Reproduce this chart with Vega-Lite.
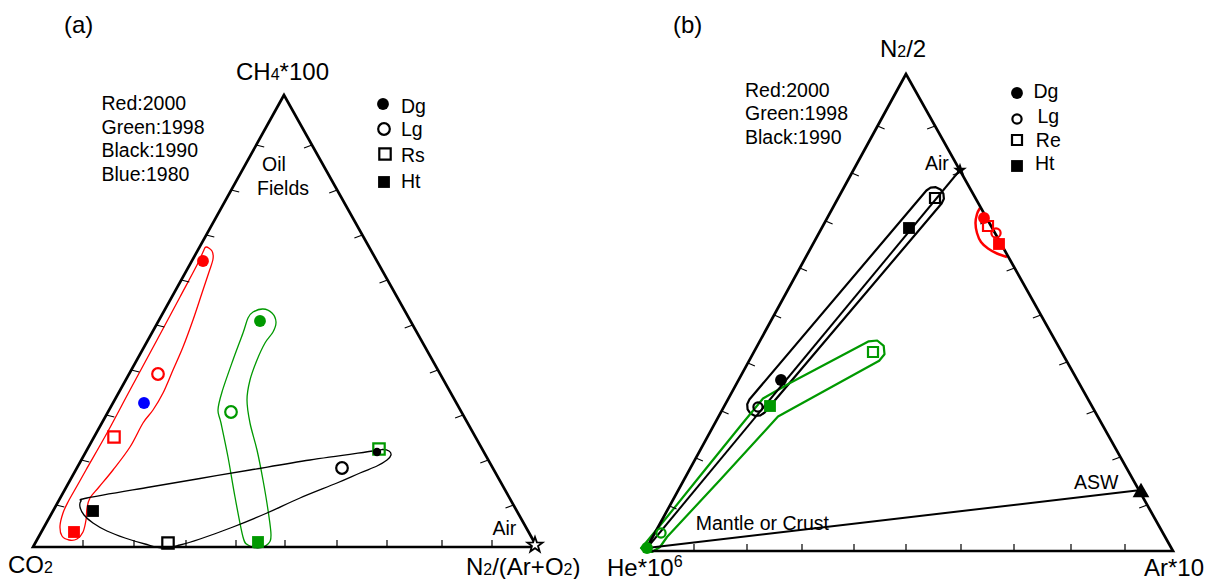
{
"$schema": "https://vega.github.io/schema/vega-lite/v6.json",
"width": 1206, "height": 579, "padding": 0,
"autosize": {"type": "none"},
"background": "white",
"config": {"view": {"stroke": null}},
"datasets": {
"edges": [
{"panel":"a","i":0,"x":33,"y":547},{"panel":"a","i":1,"x":284,"y":95},{"panel":"a","i":2,"x":537,"y":547},{"panel":"a","i":3,"x":33,"y":547},{"panel":"a","i":4,"x":284,"y":95},
{"panel":"b","i":0,"x":645,"y":551},{"panel":"b","i":1,"x":906,"y":74},{"panel":"b","i":2,"x":1173,"y":551},{"panel":"b","i":3,"x":645,"y":551},{"panel":"b","i":4,"x":906,"y":74}
],
"ticks": [
{"x":83,"y":547,"x2":83,"y2":540},{"x":134,"y":547,"x2":134,"y2":540},{"x":186,"y":547,"x2":186,"y2":540},{"x":236,"y":547,"x2":236,"y2":540},{"x":285,"y":547,"x2":285,"y2":540},{"x":337,"y":547,"x2":337,"y2":540},{"x":387,"y":547,"x2":387,"y2":540},{"x":442,"y":547,"x2":442,"y2":540},{"x":492,"y":547,"x2":492,"y2":540},
{"x":256.2,"y":145,"x2":264.2,"y2":147},{"x":231.2,"y":190,"x2":239.2,"y2":192},{"x":206.3,"y":235,"x2":214.3,"y2":237},{"x":181.3,"y":280,"x2":189.3,"y2":282},{"x":156.3,"y":325,"x2":164.3,"y2":327},{"x":131.3,"y":370,"x2":139.3,"y2":372},{"x":106.3,"y":415,"x2":114.3,"y2":417},{"x":81.3,"y":460,"x2":89.3,"y2":462},{"x":56.3,"y":505,"x2":64.3,"y2":507},
{"x":312.0,"y":145,"x2":304.0,"y2":148},{"x":337.2,"y":190,"x2":329.2,"y2":193},{"x":362.4,"y":235,"x2":354.4,"y2":238},{"x":387.5,"y":280,"x2":379.5,"y2":283},{"x":412.7,"y":325,"x2":404.7,"y2":328},{"x":437.9,"y":370,"x2":429.9,"y2":373},{"x":463.1,"y":415,"x2":455.1,"y2":418},{"x":488.3,"y":460,"x2":480.3,"y2":463},{"x":513.5,"y":505,"x2":505.5,"y2":508},
{"x":694,"y":551,"x2":694,"y2":544},{"x":747,"y":551,"x2":747,"y2":544},{"x":802,"y":551,"x2":802,"y2":544},{"x":854,"y":551,"x2":854,"y2":544},{"x":906,"y":551,"x2":906,"y2":544},{"x":961,"y":551,"x2":961,"y2":544},{"x":1014,"y":551,"x2":1014,"y2":544},{"x":1071,"y":551,"x2":1071,"y2":544},{"x":1125,"y":551,"x2":1125,"y2":544},
{"x":669.6,"y":506,"x2":676.6,"y2":509},{"x":695.9,"y":458,"x2":702.9,"y2":461},{"x":721.6,"y":411,"x2":728.6,"y2":414},{"x":747.9,"y":363,"x2":754.9,"y2":366},{"x":774.1,"y":315,"x2":781.1,"y2":318},{"x":799.9,"y":268,"x2":806.9,"y2":271},{"x":825.6,"y":221,"x2":832.6,"y2":224},{"x":851.8,"y":173,"x2":858.8,"y2":176},{"x":877.6,"y":126,"x2":884.6,"y2":129},
{"x":935.1,"y":126,"x2":927.1,"y2":129},{"x":960.8,"y":172,"x2":952.8,"y2":175},{"x":988.3,"y":221,"x2":980.3,"y2":224},{"x":1014.6,"y":268,"x2":1006.6,"y2":271},{"x":1040.9,"y":315,"x2":1032.9,"y2":318},{"x":1067.2,"y":362,"x2":1059.2,"y2":365},{"x":1094.6,"y":411,"x2":1086.6,"y2":414},{"x":1120.4,"y":457,"x2":1112.4,"y2":460},{"x":1147.2,"y":505,"x2":1139.2,"y2":508}
],
"env_a": [
{"g":"ra","year":"2000","i":0,"x":206,"y":247},{"g":"ra","year":"2000","i":1,"x":212,"y":251},{"g":"ra","year":"2000","i":2,"x":213,"y":259},{"g":"ra","year":"2000","i":3,"x":209,"y":272},{"g":"ra","year":"2000","i":4,"x":202,"y":293},{"g":"ra","year":"2000","i":5,"x":193,"y":320},{"g":"ra","year":"2000","i":6,"x":183,"y":347},{"g":"ra","year":"2000","i":7,"x":173,"y":370},{"g":"ra","year":"2000","i":8,"x":163,"y":393},{"g":"ra","year":"2000","i":9,"x":153,"y":410},{"g":"ra","year":"2000","i":10,"x":143,"y":423},{"g":"ra","year":"2000","i":11,"x":130,"y":447},{"g":"ra","year":"2000","i":12,"x":113,"y":470},{"g":"ra","year":"2000","i":13,"x":99,"y":487},{"g":"ra","year":"2000","i":14,"x":90,"y":498},{"g":"ra","year":"2000","i":15,"x":87,"y":508},{"g":"ra","year":"2000","i":16,"x":86,"y":520},{"g":"ra","year":"2000","i":17,"x":83,"y":532},{"g":"ra","year":"2000","i":18,"x":77,"y":539},{"g":"ra","year":"2000","i":19,"x":69,"y":540},{"g":"ra","year":"2000","i":20,"x":62,"y":536},{"g":"ra","year":"2000","i":21,"x":60,"y":526},{"g":"ra","year":"2000","i":22,"x":63,"y":513},{"g":"ra","year":"2000","i":23,"x":68,"y":502},{"g":"ra","year":"2000","i":24,"x":77,"y":486},{"g":"ra","year":"2000","i":25,"x":86,"y":470},{"g":"ra","year":"2000","i":26,"x":107,"y":433},{"g":"ra","year":"2000","i":27,"x":130,"y":390},{"g":"ra","year":"2000","i":28,"x":157,"y":340},{"g":"ra","year":"2000","i":29,"x":180,"y":297},{"g":"ra","year":"2000","i":30,"x":197,"y":265},{"g":"ra","year":"2000","i":31,"x":203,"y":252},
{"g":"ga","year":"1998","i":0,"x":253,"y":312},{"g":"ga","year":"1998","i":1,"x":263,"y":309},{"g":"ga","year":"1998","i":2,"x":272,"y":313},{"g":"ga","year":"1998","i":3,"x":276,"y":322},{"g":"ga","year":"1998","i":4,"x":273,"y":332},{"g":"ga","year":"1998","i":5,"x":265,"y":343},{"g":"ga","year":"1998","i":6,"x":257,"y":360},{"g":"ga","year":"1998","i":7,"x":250,"y":380},{"g":"ga","year":"1998","i":8,"x":247,"y":400},{"g":"ga","year":"1998","i":9,"x":250,"y":423},{"g":"ga","year":"1998","i":10,"x":257,"y":450},{"g":"ga","year":"1998","i":11,"x":263,"y":480},{"g":"ga","year":"1998","i":12,"x":268,"y":510},{"g":"ga","year":"1998","i":13,"x":271,"y":535},{"g":"ga","year":"1998","i":14,"x":268,"y":544},{"g":"ga","year":"1998","i":15,"x":258,"y":548},{"g":"ga","year":"1998","i":16,"x":248,"y":545},{"g":"ga","year":"1998","i":17,"x":243,"y":537},{"g":"ga","year":"1998","i":18,"x":235,"y":497},{"g":"ga","year":"1998","i":19,"x":228,"y":457},{"g":"ga","year":"1998","i":20,"x":221,"y":423},{"g":"ga","year":"1998","i":21,"x":218,"y":410},{"g":"ga","year":"1998","i":22,"x":222,"y":392},{"g":"ga","year":"1998","i":23,"x":233,"y":360},{"g":"ga","year":"1998","i":24,"x":243,"y":333},{"g":"ga","year":"1998","i":25,"x":248,"y":318},
{"g":"ka","year":"1990","i":0,"x":87,"y":498},{"g":"ka","year":"1990","i":1,"x":150,"y":487},{"g":"ka","year":"1990","i":2,"x":200,"y":478.5},{"g":"ka","year":"1990","i":3,"x":250,"y":470},{"g":"ka","year":"1990","i":4,"x":310,"y":460},{"g":"ka","year":"1990","i":5,"x":373,"y":451},{"g":"ka","year":"1990","i":6,"x":383,"y":449.5},{"g":"ka","year":"1990","i":7,"x":389,"y":451},{"g":"ka","year":"1990","i":8,"x":391,"y":455},{"g":"ka","year":"1990","i":9,"x":387,"y":460},{"g":"ka","year":"1990","i":10,"x":377,"y":466},{"g":"ka","year":"1990","i":11,"x":360,"y":473},{"g":"ka","year":"1990","i":12,"x":337,"y":483},{"g":"ka","year":"1990","i":13,"x":300,"y":498},{"g":"ka","year":"1990","i":14,"x":267,"y":513},{"g":"ka","year":"1990","i":15,"x":233,"y":527},{"g":"ka","year":"1990","i":16,"x":200,"y":539},{"g":"ka","year":"1990","i":17,"x":180,"y":545},{"g":"ka","year":"1990","i":18,"x":163,"y":548},{"g":"ka","year":"1990","i":19,"x":145,"y":544},{"g":"ka","year":"1990","i":20,"x":125,"y":538},{"g":"ka","year":"1990","i":21,"x":107,"y":531},{"g":"ka","year":"1990","i":22,"x":93,"y":523},{"g":"ka","year":"1990","i":23,"x":84,"y":515},{"g":"ka","year":"1990","i":24,"x":80,"y":507},{"g":"ka","year":"1990","i":25,"x":81,"y":501}
],
"env_b": [
{"g":"kb","year":"1990","i":0,"x":941.6,"y":203.5},{"g":"kb","year":"1990","i":1,"x":943.9,"y":198.8},{"g":"kb","year":"1990","i":2,"x":943.4,"y":193.6},{"g":"kb","year":"1990","i":3,"x":940.5,"y":189.4},{"g":"kb","year":"1990","i":4,"x":935.8,"y":187.2},{"g":"kb","year":"1990","i":5,"x":930.6,"y":187.6},{"g":"kb","year":"1990","i":6,"x":926.4,"y":190.5},{"g":"kb","year":"1990","i":7,"x":749.4,"y":399.5},{"g":"kb","year":"1990","i":8,"x":747.2,"y":404.2},{"g":"kb","year":"1990","i":9,"x":747.6,"y":409.4},{"g":"kb","year":"1990","i":10,"x":750.5,"y":413.6},{"g":"kb","year":"1990","i":11,"x":755.2,"y":415.9},{"g":"kb","year":"1990","i":12,"x":760.4,"y":415.4},{"g":"kb","year":"1990","i":13,"x":764.6,"y":412.5},
{"g":"gb","year":"1998","i":0,"x":644,"y":545},{"g":"gb","year":"1998","i":1,"x":667,"y":517},{"g":"gb","year":"1998","i":2,"x":700,"y":476},{"g":"gb","year":"1998","i":3,"x":740,"y":426.5},{"g":"gb","year":"1998","i":4,"x":763,"y":398.5},{"g":"gb","year":"1998","i":5,"x":790,"y":383},{"g":"gb","year":"1998","i":6,"x":868.8,"y":341.3},{"g":"gb","year":"1998","i":7,"x":877.2,"y":340.5},{"g":"gb","year":"1998","i":8,"x":883.7,"y":345.8},{"g":"gb","year":"1998","i":9,"x":884.5,"y":354.2},{"g":"gb","year":"1998","i":10,"x":879.2,"y":360.7},{"g":"gb","year":"1998","i":11,"x":778,"y":416.5},{"g":"gb","year":"1998","i":12,"x":720,"y":480},{"g":"gb","year":"1998","i":13,"x":667,"y":537},{"g":"gb","year":"1998","i":14,"x":660,"y":547},{"g":"gb","year":"1998","i":15,"x":652,"y":552},{"g":"gb","year":"1998","i":16,"x":644,"y":551},{"g":"gb","year":"1998","i":17,"x":641,"y":548}
],
"arc_b": [
{"g":"rb","year":"2000","i":0,"x":980,"y":208},{"g":"rb","year":"2000","i":1,"x":977,"y":214},{"g":"rb","year":"2000","i":2,"x":975.5,"y":223},{"g":"rb","year":"2000","i":3,"x":977,"y":233},{"g":"rb","year":"2000","i":4,"x":981,"y":242},{"g":"rb","year":"2000","i":5,"x":988,"y":248.5},{"g":"rb","year":"2000","i":6,"x":997,"y":253.5},{"g":"rb","year":"2000","i":7,"x":1007,"y":257}
],
"lines_b": [
{"name":"air","x":647,"y":548,"x2":960,"y2":170},
{"name":"mantle","x":647,"y":548,"x2":1141,"y2":490}
],
"pts": [
{"panel":"a","sample":"Dg","year":"2000","x":203,"y":261},{"panel":"a","sample":"Dg","year":"1980","x":144,"y":403},{"panel":"a","sample":"Dg","year":"1998","x":260,"y":321},{"panel":"a","sample":"Dg","year":"1990","x":377,"y":452},{"panel":"a","sample":"Dg","year":"legend","x":383,"y":104},
{"panel":"a","sample":"Lg","year":"2000","x":158,"y":374},{"panel":"a","sample":"Lg","year":"1998","x":231,"y":412},{"panel":"a","sample":"Lg","year":"1990","x":342,"y":468},{"panel":"a","sample":"Lg","year":"legend","x":384,"y":129},
{"panel":"a","sample":"Rs","year":"2000","x":114,"y":437},{"panel":"a","sample":"Rs","year":"1990","x":168,"y":543},{"panel":"a","sample":"Rs","year":"1998","x":379,"y":449},{"panel":"a","sample":"Rs","year":"legend","x":385,"y":154},
{"panel":"a","sample":"Ht","year":"2000","x":74,"y":532},{"panel":"a","sample":"Ht","year":"1990","x":93,"y":511},{"panel":"a","sample":"Ht","year":"1998","x":258,"y":542},{"panel":"a","sample":"Ht","year":"legend","x":384,"y":182},
{"panel":"b","sample":"Dg","year":"2000","x":984,"y":218},{"panel":"b","sample":"Dg","year":"1990","x":781,"y":380},{"panel":"b","sample":"Dg","year":"1998","x":647,"y":548},{"panel":"b","sample":"Dg","year":"legend","x":1017,"y":93},
{"panel":"b","sample":"Lg","year":"2000","x":996,"y":233},{"panel":"b","sample":"Lg","year":"1990","x":758,"y":407},{"panel":"b","sample":"Lg","year":"1998","x":661,"y":533},{"panel":"b","sample":"Lg","year":"legend","x":1017,"y":119},
{"panel":"b","sample":"Re","year":"2000","x":988,"y":226},{"panel":"b","sample":"Re","year":"1990","x":935,"y":198},{"panel":"b","sample":"Re","year":"1998","x":873,"y":352},{"panel":"b","sample":"Re","year":"legend","x":1017,"y":140},
{"panel":"b","sample":"Ht","year":"2000","x":999,"y":244},{"panel":"b","sample":"Ht","year":"1990","x":909,"y":228},{"panel":"b","sample":"Ht","year":"1998","x":770,"y":406},{"panel":"b","sample":"Ht","year":"legend","x":1017,"y":166}
],
"refs": [
{"name":"Air a","x":535,"y":545},
{"name":"Air b","x":960,"y":170},
{"name":"ASW","x":1141,"y":490}
],
"t24": [
{"x":64,"y":33,"text":"(a)"},{"x":673,"y":33,"text":"(b)"},
{"x":236,"y":80,"text":"CH"},{"x":279.6,"y":80,"text":"*100"},
{"x":8,"y":573,"text":"CO"},
{"x":466,"y":574.5,"text":"N"},{"x":492.2,"y":574.5,"text":"/(Ar+O"},{"x":572.5,"y":574.5,"text":")"},
{"x":880,"y":57,"text":"N"},{"x":906.2,"y":57,"text":"/2"},
{"x":607,"y":575.5,"text":"He*10"},{"x":1144,"y":575.5,"text":"Ar*10"}
],
"t16": [
{"x":270.7,"y":80,"text":"4"},{"x":44,"y":573,"text":"2"},{"x":483.3,"y":574.5,"text":"2"},{"x":563.6,"y":574.5,"text":"2"},{"x":897.3,"y":57,"text":"2"},{"x":673.7,"y":566.5,"text":"6"}
],
"t19": [
{"x":101.5,"y":110,"text":"Red:2000"},{"x":101.5,"y":133.5,"text":"Green:1998"},{"x":101.5,"y":157,"text":"Black:1990"},{"x":101.5,"y":180.5,"text":"Blue:1980"},
{"x":262,"y":171,"text":"Oil"},{"x":257,"y":195,"text":"Fields"},
{"x":401,"y":112.5,"text":"Dg"},{"x":401,"y":136,"text":"Lg"},{"x":401,"y":161.5,"text":"Rs"},{"x":401,"y":187.5,"text":"Ht"},
{"x":492.5,"y":535,"text":"Air"},
{"x":745,"y":96.5,"text":"Red:2000"},{"x":745,"y":120,"text":"Green:1998"},{"x":745,"y":143.5,"text":"Black:1990"},
{"x":1033.5,"y":98,"text":"Dg"},{"x":1037.5,"y":123,"text":"Lg"},{"x":1035.8,"y":147.3,"text":"Re"},{"x":1035,"y":170,"text":"Ht"},
{"x":925,"y":170,"text":"Air"},{"x":1074,"y":489,"text":"ASW"},{"x":695.7,"y":530,"text":"Mantle or Crust"}
]
},
"encoding": {
"x": {"field":"x","type":"quantitative","scale":{"domain":[0,1206],"nice":false,"zero":false},"axis":null},
"y": {"field":"y","type":"quantitative","scale":{"domain":[0,579],"nice":false,"zero":false,"reverse":true},"axis":null}
},
"layer": [
{"data":{"name":"env_a"},"mark":{"type":"line","interpolate":"cardinal-closed","strokeWidth":1.3},
 "encoding":{"detail":{"field":"g","type":"nominal"},"order":{"field":"i","type":"quantitative"},
 "color":{"field":"year","type":"nominal","scale":{"domain":["2000","1998","1990","1980","legend"],"range":["#ff0000","#009900","#000000","#0000ff","#000000"]},"legend":null}}},
{"data":{"name":"env_b"},"mark":{"type":"line","interpolate":"linear-closed","strokeWidth":2.2,"strokeJoin":"round"},
 "encoding":{"detail":{"field":"g","type":"nominal"},"order":{"field":"i","type":"quantitative"},
 "color":{"field":"year","type":"nominal","scale":{"domain":["2000","1998","1990","1980","legend"],"range":["#ff0000","#009900","#000000","#0000ff","#000000"]},"legend":null}}},
{"data":{"name":"arc_b"},"mark":{"type":"line","interpolate":"cardinal","strokeWidth":2.5},
 "encoding":{"order":{"field":"i","type":"quantitative"},
 "color":{"field":"year","type":"nominal","scale":{"domain":["2000","1998","1990","1980","legend"],"range":["#ff0000","#009900","#000000","#0000ff","#000000"]},"legend":null}}},
{"data":{"name":"lines_b"},"mark":{"type":"rule","color":"black","strokeWidth":2},
 "encoding":{"x2":{"field":"x2"},"y2":{"field":"y2"}}},
{"data":{"name":"edges"},"mark":{"type":"line","color":"black","strokeWidth":2.7,"strokeJoin":"miter","strokeMiterLimit":20},
 "encoding":{"detail":{"field":"panel","type":"nominal"},"order":{"field":"i","type":"quantitative"}}},
{"data":{"name":"ticks"},"mark":{"type":"rule","color":"black","strokeWidth":1.2},
 "encoding":{"x2":{"field":"x2"},"y2":{"field":"y2"}}},
{"data":{"name":"pts"},"transform":[{"filter":"datum.sample=='Lg' && datum.panel=='a'"}],
 "mark":{"type":"point","shape":"circle","filled":false,"strokeWidth":2.2,"size":135,"opacity":1},
 "encoding":{"color":{"field":"year","type":"nominal","scale":{"domain":["2000","1998","1990","1980","legend"],"range":["#ff0000","#009900","#000000","#0000ff","#000000"]},"legend":null}}},
{"data":{"name":"pts"},"transform":[{"filter":"datum.sample=='Lg' && datum.panel=='b'"}],
 "mark":{"type":"point","shape":"circle","filled":false,"strokeWidth":2.2,"size":85,"opacity":1},
 "encoding":{"color":{"field":"year","type":"nominal","scale":{"domain":["2000","1998","1990","1980","legend"],"range":["#ff0000","#009900","#000000","#0000ff","#000000"]},"legend":null}}},
{"data":{"name":"pts"},"transform":[{"filter":"(datum.sample=='Rs' || datum.sample=='Re') && datum.panel=='a'"}],
 "mark":{"type":"point","shape":"square","filled":false,"strokeWidth":2.2,"size":130,"opacity":1},
 "encoding":{"color":{"field":"year","type":"nominal","scale":{"domain":["2000","1998","1990","1980","legend"],"range":["#ff0000","#009900","#000000","#0000ff","#000000"]},"legend":null}}},
{"data":{"name":"pts"},"transform":[{"filter":"(datum.sample=='Rs' || datum.sample=='Re') && datum.panel=='b'"}],
 "mark":{"type":"point","shape":"square","filled":false,"strokeWidth":2.2,"size":100,"opacity":1},
 "encoding":{"color":{"field":"year","type":"nominal","scale":{"domain":["2000","1998","1990","1980","legend"],"range":["#ff0000","#009900","#000000","#0000ff","#000000"]},"legend":null}}},
{"data":{"name":"pts"},"transform":[{"filter":"datum.sample=='Ht'"}],
 "mark":{"type":"point","shape":"square","filled":true,"size":140,"opacity":1},
 "encoding":{"color":{"field":"year","type":"nominal","scale":{"domain":["2000","1998","1990","1980","legend"],"range":["#ff0000","#009900","#000000","#0000ff","#000000"]},"legend":null}}},
{"data":{"name":"pts"},"transform":[{"filter":"datum.sample=='Dg' && !(datum.panel=='a' && datum.year=='1990')"}],
 "mark":{"type":"point","shape":"circle","filled":true,"size":140,"opacity":1},
 "encoding":{"color":{"field":"year","type":"nominal","scale":{"domain":["2000","1998","1990","1980","legend"],"range":["#ff0000","#009900","#000000","#0000ff","#000000"]},"legend":null}}},
{"data":{"name":"pts"},"transform":[{"filter":"datum.sample=='Dg' && datum.panel=='a' && datum.year=='1990'"}],
 "mark":{"type":"point","shape":"circle","filled":true,"size":70,"opacity":1},
 "encoding":{"color":{"field":"year","type":"nominal","scale":{"domain":["2000","1998","1990","1980","legend"],"range":["#ff0000","#009900","#000000","#0000ff","#000000"]},"legend":null}}},
{"data":{"name":"refs"},"transform":[{"filter":"datum.name=='Air a'"}],
 "mark":{"type":"point","shape":"M0,-1L0.235,-0.324L0.951,-0.309L0.38,0.124L0.588,0.809L0,0.4L-0.588,0.809L-0.38,0.124L-0.951,-0.309L-0.235,-0.324Z","filled":true,"fill":"white","stroke":"black","strokeWidth":1.8,"size":256,"opacity":1}},
{"data":{"name":"refs"},"transform":[{"filter":"datum.name=='Air b'"}],
 "mark":{"type":"point","shape":"M0,-1L0.235,-0.324L0.951,-0.309L0.38,0.124L0.588,0.809L0,0.4L-0.588,0.809L-0.38,0.124L-0.951,-0.309L-0.235,-0.324Z","filled":true,"color":"black","size":210,"opacity":1}},
{"data":{"name":"refs"},"transform":[{"filter":"datum.name=='ASW'"}],
 "mark":{"type":"point","shape":"triangle-up","filled":true,"color":"black","size":280,"opacity":1}},
{"data":{"name":"t24"},"mark":{"type":"text","align":"left","baseline":"alphabetic","font":"Liberation Sans","fontSize":24,"color":"black"},
 "encoding":{"text":{"field":"text"}}},
{"data":{"name":"t16"},"mark":{"type":"text","align":"left","baseline":"alphabetic","font":"Liberation Sans","fontSize":16,"color":"black"},
 "encoding":{"text":{"field":"text"}}},
{"data":{"name":"t19"},"mark":{"type":"text","align":"left","baseline":"alphabetic","font":"Liberation Sans","fontSize":19.5,"color":"black"},
 "encoding":{"text":{"field":"text"}}}
]
}
